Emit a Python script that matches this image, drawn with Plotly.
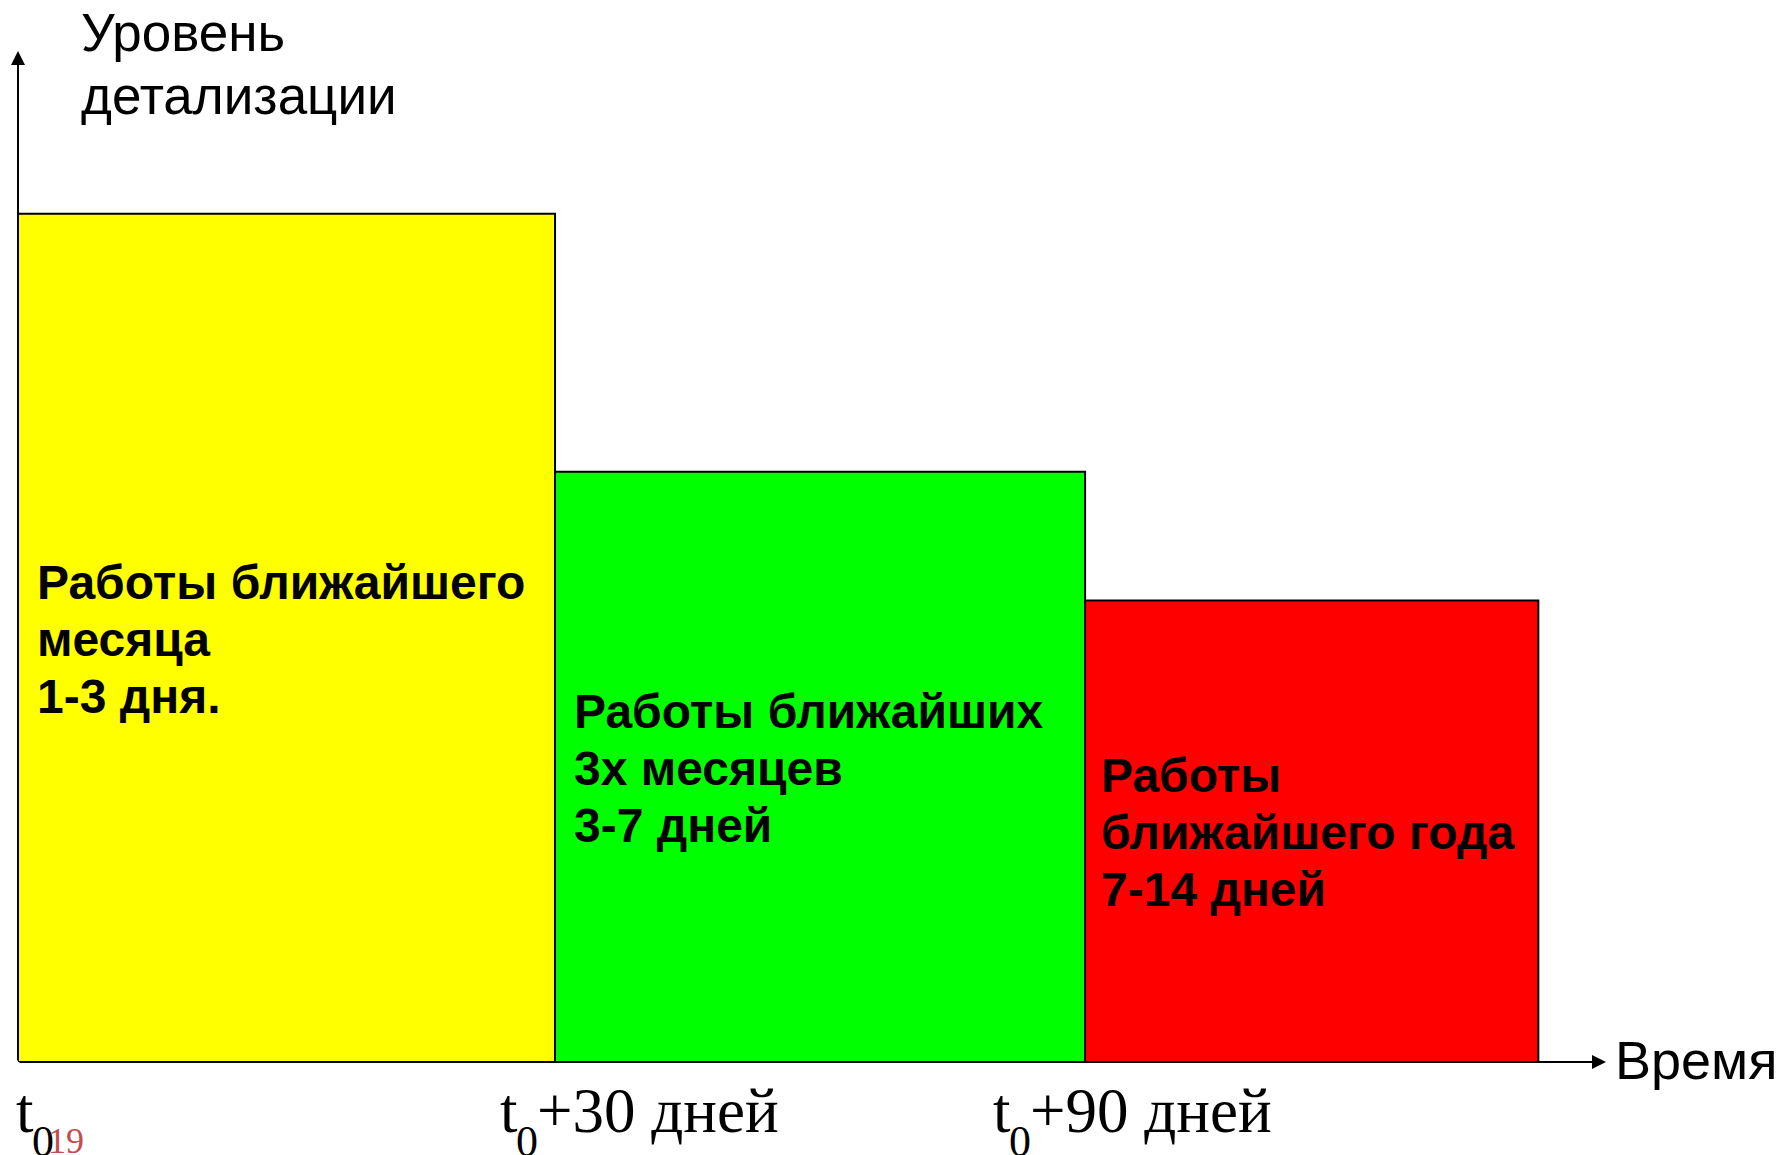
import plotly.graph_objects as go

# ---- data ----
segments = ["Работы ближайшего месяца", "Работы ближайших 3х месяцев", "Работы ближайшего года"]
seg_widths = [1.0, 0.987, 0.844]          # relative length of each planning horizon
detail_level = [100, 69.6, 54.4]          # relative level of detail
seg_colors = ["#ffff00", "#00ff00", "#ff0000"]
seg_text = [
    ["Работы ближайшего", "месяца", "1-3 дня."],
    ["Работы ближайших", "3х месяцев", "3-7 дней"],
    ["Работы", "ближайшего года", "7-14 дней"],
]
tick_main = ["t", "t", "t"]
tick_sub = ["0", "0", "0"]
tick_rest = ["", "+30 дней", "+90 дней"]
x_end = 2.957
y_end = 119.2

# ---- layout geometry (pixels) ----
W, H = 1779, 1155
L, R, T, B = 18, 1606, 51, 1062


def fx(px):
    return (px - L) / (R - L)


def fy(py):
    return (B - py) / (B - T)


starts = [0.0]
for w in seg_widths[:-1]:
    starts.append(starts[-1] + w)
centers = [s + w / 2 for s, w in zip(starts, seg_widths)]

fig = go.Figure()
fig.add_trace(go.Bar(
    x=centers, y=detail_level, width=seg_widths,
    marker=dict(color=seg_colors, line=dict(color="black", width=2)),
    cliponaxis=False, hoverinfo="skip", showlegend=False,
))

ann = []
SANS = "Liberation Sans, Arial, sans-serif"
SERIF = "Liberation Serif, Times New Roman, serif"


def text_at(txt, left_px, baseline_px, size, family, color="black", bold=False):
    center = baseline_px - 0.33 * size
    t = f"<b>{txt}</b>" if bold else txt
    ann.append(dict(
        text=t, xref="paper", yref="paper", x=fx(left_px), y=fy(center),
        xanchor="left", yanchor="middle", showarrow=False,
        font=dict(family=family, size=size, color=color), borderpad=0,
    ))


# text inside bars
text_left = [36, 573, 1100]
text_base = [598, 727, 791]
for lines, lx, by in zip(seg_text, text_left, text_base):
    for i, line in enumerate(lines):
        text_at(line, lx, by + 57 * i, 48, SANS, bold=True)

# axis titles
text_at("Уровень", 80, 50, 53, SANS)
text_at("детализации", 80, 113, 53, SANS)
text_at("Время", 1614, 1078, 54, SANS)

# tick labels
tick_left = [15, 499, 992]
for m, s, r, lx in zip(tick_main, tick_sub, tick_rest, tick_left):
    text_at(m, lx, 1132, 63, SERIF)
    text_at(s, lx + 16, 1156, 44, SERIF)
    if r:
        text_at(r, lx + 37, 1132, 63, SERIF)
text_at("19", 47, 1153, 36, SERIF, color="#c0504d")

# axes with arrows
ann.append(dict(x=x_end, y=0, ax=0, ay=0, xref="x", yref="y", axref="x", ayref="y",
                text="", showarrow=True, arrowhead=2, arrowsize=1.4, arrowwidth=2,
                arrowcolor="black", standoff=0))
ann.append(dict(x=0, y=y_end, ax=0, ay=0, xref="x", yref="y", axref="x", ayref="y",
                text="", showarrow=True, arrowhead=2, arrowsize=1.4, arrowwidth=2,
                arrowcolor="black", standoff=0))

fig.update_layout(
    width=W, height=H,
    margin=dict(l=L, r=W - R, t=T, b=H - B, pad=0),
    paper_bgcolor="white", plot_bgcolor="white",
    xaxis=dict(range=[0, x_end], visible=False, fixedrange=True),
    yaxis=dict(range=[0, y_end], visible=False, fixedrange=True),
    annotations=ann,
    showlegend=False,
)

fig.write_html("out.html", config={"displayModeBar": False})
